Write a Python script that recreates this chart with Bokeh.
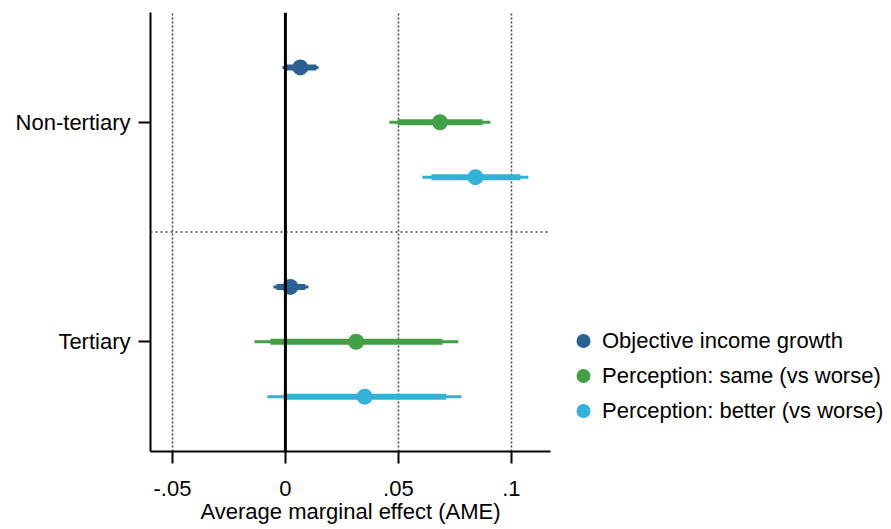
from bokeh.plotting import figure
from bokeh.models import (FixedTicker, Span, Legend, LegendItem, ColumnDataSource)
from bokeh.embed import file_html
from bokeh.resources import INLINE

# ---- data ----
groups = ["Non-tertiary", "Tertiary"]
series = ["Objective income growth", "Perception: same (vs worse)", "Perception: better (vs worse)"]
colors = ["#2b6190", "#43a047", "#33b1d7"]

nt_est = [0.0066, 0.0684, 0.0841]
nt_lo95 = [-0.0013, 0.0460, 0.0606]
nt_hi95 = [0.0146, 0.0907, 0.1075]
nt_lo90 = [-0.0004, 0.0496, 0.0646]
nt_hi90 = [0.0137, 0.0872, 0.1040]

t_est = [0.0022, 0.0313, 0.0351]
t_lo95 = [-0.0053, -0.0137, -0.0080]
t_hi95 = [0.0102, 0.0765, 0.0779]
t_lo90 = [-0.0040, -0.0066, -0.0008]
t_hi90 = [0.0088, 0.0695, 0.0712]

x_ticks = [-0.05, 0.0, 0.05, 0.1]
x_tick_labels = ["-.05", "0", ".05", ".1"]
x_title = "Average marginal effect (AME)"

# ---- layout constants ----
group_pos = [2, 1]
offsets = [0.25, 0.0, -0.25]
FONT = "Liberation Sans"
FS = "22px"

p = figure(frame_width=400, frame_height=439, output_backend="svg", toolbar_location=None,
           x_range=(-0.0597, 0.1173), y_range=(0.5, 2.5),
           min_border_left=150, min_border_top=12, min_border_right=341,
           min_border_bottom=78)
p.outline_line_color = None
p.background_fill_color = "white"
p.border_fill_color = "white"

# grids
p.ygrid.visible = False
p.xgrid.ticker = FixedTicker(ticks=x_ticks)
p.xgrid.grid_line_color = "#444444"
p.xgrid.grid_line_dash = "2 2"
p.xgrid.grid_line_width = 1.5

p.add_layout(Span(location=1.5, dimension="width", line_color="#444444",
                  line_dash="2 3", line_width=1.5))
p.add_layout(Span(location=0, dimension="height", line_color="black", line_width=3))

all_est = [nt_est, t_est]
all_lo95 = [nt_lo95, t_lo95]
all_hi95 = [nt_hi95, t_hi95]
all_lo90 = [nt_lo90, t_lo90]
all_hi90 = [nt_hi90, t_hi90]

renderers = []
for s in range(len(series)):
    ys = [group_pos[g] + offsets[s] for g in range(len(groups))]
    src = ColumnDataSource(dict(
        y=ys,
        est=[all_est[g][s] for g in range(len(groups))],
        lo95=[all_lo95[g][s] for g in range(len(groups))],
        hi95=[all_hi95[g][s] for g in range(len(groups))],
        lo90=[all_lo90[g][s] for g in range(len(groups))],
        hi90=[all_hi90[g][s] for g in range(len(groups))],
    ))
    p.segment(x0="lo95", x1="hi95", y0="y", y1="y", source=src,
              line_color=colors[s], line_width=3)
    p.segment(x0="lo90", x1="hi90", y0="y", y1="y", source=src,
              line_color=colors[s], line_width=6)
    r = p.scatter(x="est", y="y", source=src, size=16, marker="circle",
                  fill_color=colors[s], line_color=colors[s], line_width=0)
    renderers.append(r)

# axes
p.xaxis.ticker = FixedTicker(ticks=x_ticks)
p.xaxis.major_label_overrides = {t: l for t, l in zip(x_ticks, x_tick_labels)}
p.xaxis.axis_label = x_title
p.yaxis.ticker = FixedTicker(ticks=group_pos)
p.yaxis.major_label_overrides = {gp: g for gp, g in zip(group_pos, groups)}

for ax in (p.xaxis, p.yaxis):
    ax.axis_line_width = 2
    ax.axis_line_color = "black"
    ax.major_tick_line_width = 2
    ax.major_tick_line_color = "black"
    ax.major_tick_out = 12
    ax.major_tick_in = 0
    ax.minor_tick_out = 0
    ax.minor_tick_in = 0
    ax.major_label_text_font = FONT
    ax.major_label_text_font_size = FS
    ax.major_label_text_color = "black"
    ax.axis_label_text_font = FONT
    ax.axis_label_text_font_size = FS
    ax.axis_label_text_font_style = "normal"
    ax.axis_label_text_color = "black"

p.xaxis.major_label_standoff = 17
p.xaxis.axis_label_standoff = 0
p.yaxis.major_label_standoff = 8

legend = Legend(items=[LegendItem(label=series[i], renderers=[renderers[i]]) for i in range(len(series))],
                location=(14, 23), orientation="vertical",
                glyph_width=38, glyph_height=35, spacing=0, padding=5, margin=0,
                label_standoff=0, label_text_font=FONT, label_text_font_size=FS,
                label_text_color="black", border_line_color=None,
                background_fill_alpha=0)
p.add_layout(legend, "right")

open("out.html", "w").write(file_html(p, INLINE))
